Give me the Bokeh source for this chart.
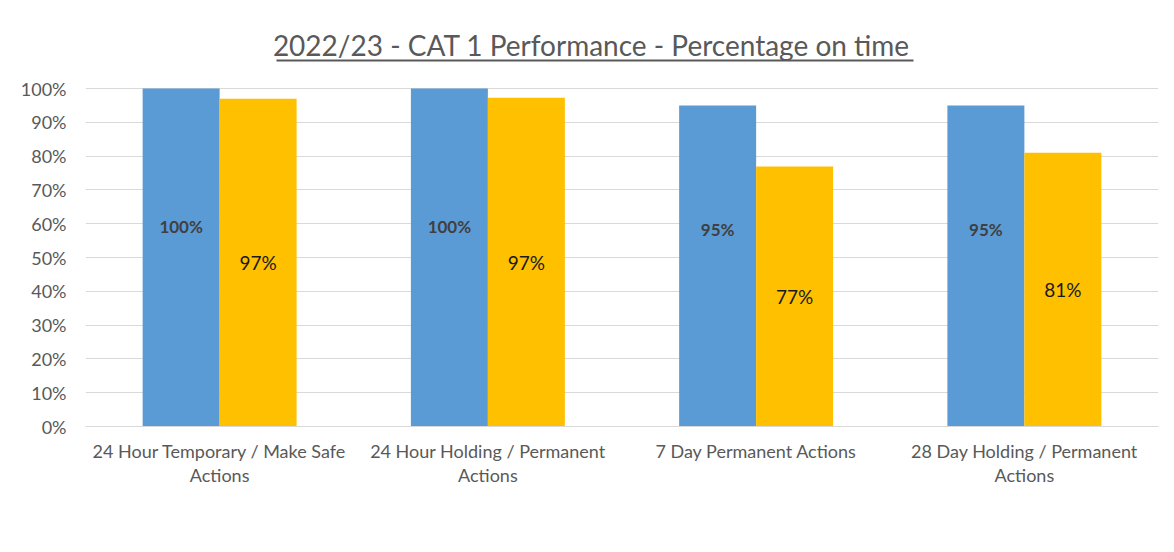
from bokeh.plotting import figure
from bokeh.models import (FactorRange, ColumnDataSource, Range1d, FixedTicker,
                          NumeralTickFormatter, Legend, LegendItem, Label, BoxAnnotation)
from bokeh.transform import dodge
from bokeh.core.properties import value
from bokeh.embed import file_html
from bokeh.resources import INLINE

categories = [
    "24 Hour Temporary / Make Safe\nActions",
    "24 Hour Holding / Permanent\nActions",
    "7 Day Permanent Actions",
    "28 Day Holding / Permanent\nActions",
]
series_names = ["Target", "2022/23"]
target = [1.00, 1.00, 0.95, 0.95]
actual = [0.97, 0.973, 0.769, 0.81]
y_ticks = [0.0, 0.1, 0.2, 0.3, 0.4, 0.5, 0.6, 0.7, 0.8, 0.9, 1.0]
title_text = "2022/23 - CAT 1 Performance  - Percentage on time"

FONT = "Lato"
BLUE = "#5B9BD5"
GOLD = "#FFC000"
GREY = "#595959"
GRID = "#D9D9D9"

# layout (pixels)
FRAME_W = 1073
PX_PER_UNIT = 338          # pixels for 0% -> 100%
HEAD_PX = 60               # extra frame space above 100% used for the title
PX_PER_CAT = FRAME_W / len(categories)


def py(px):   # pixels above 0% -> data units
    return px / PX_PER_UNIT


def px_x(px):  # pixels from frame left -> categorical synthetic units
    return px / PX_PER_CAT


src = ColumnDataSource(dict(
    cats=categories,
    target=target,
    actual=actual,
    target_lbl=[f"{round(v*100)}%" for v in target],
    actual_lbl=[f"{round(v*100)}%" for v in actual],
    target_lbl_y=[0.18 * v + 0.412 for v in target],
    actual_lbl_y=[v / 2 for v in actual],
))

p = figure(frame_width=FRAME_W, frame_height=PX_PER_UNIT + HEAD_PX,
           x_range=FactorRange(factors=categories, range_padding=0),
           y_range=Range1d(0, 1.0 + py(HEAD_PX)), output_backend="svg", toolbar_location=None,
           min_border_left=85, min_border_right=8, min_border_top=28, min_border_bottom=0)

bw = 0.287
r1 = p.vbar(x=dodge("cats", -bw / 2, range=p.x_range), top="target", width=bw, source=src,
            fill_color=BLUE, line_color=None)
r2 = p.vbar(x=dodge("cats", bw / 2, range=p.x_range), top="actual", width=bw, source=src,
            fill_color=GOLD, line_color=None)

p.text(x=dodge("cats", -bw / 2, range=p.x_range), y="target_lbl_y", text="target_lbl", source=src,
       text_align="center", text_baseline="middle", text_font=value(FONT),
       text_font_size="17px", text_font_style="bold", text_color="#404040")
p.text(x=dodge("cats", bw / 2, range=p.x_range), y="actual_lbl_y", text="actual_lbl", source=src,
       text_align="center", text_baseline="middle", text_font=value(FONT),
       text_font_size="19px", text_color="#1a1a1a")

# title (underlined), drawn in the space above the 100% line
p.add_layout(Label(x=px_x(509.5), y=1.0 + py(44), text=title_text,
                   text_align="center", text_baseline="middle",
                   text_font=FONT, text_font_size="28px", text_color=GREY))
p.add_layout(BoxAnnotation(left=px_x(191), right=px_x(828),
                           bottom=1.0 + py(27), top=1.0 + py(29),
                           fill_color=GREY, fill_alpha=1, line_color=None))

p.xgrid.grid_line_color = None
p.ygrid.grid_line_color = GRID
p.ygrid.ticker = FixedTicker(ticks=y_ticks)

p.yaxis.ticker = FixedTicker(ticks=y_ticks)
p.yaxis.formatter = NumeralTickFormatter(format="0%")
p.yaxis.axis_line_color = None
p.yaxis.major_tick_line_color = None
p.yaxis.minor_tick_line_color = None
p.yaxis.major_label_text_font = FONT
p.yaxis.major_label_text_font_size = "18px"
p.yaxis.major_label_text_color = GREY
p.yaxis.major_label_standoff = 13

p.xaxis.axis_line_color = GRID
p.xaxis.major_tick_line_color = None
p.xaxis.minor_tick_line_color = None
p.xaxis.major_label_text_font = FONT
p.xaxis.major_label_text_font_size = "18px"
p.xaxis.major_label_text_line_height = 1.1
p.xaxis.major_label_text_color = GREY
p.xaxis.major_label_standoff = 7

legend = Legend(items=[LegendItem(label=series_names[0], renderers=[r1]),
                       LegendItem(label=series_names[1], renderers=[r2])],
                orientation="horizontal", location="center",
                label_text_font=FONT, label_text_font_size="18px", label_text_color=GREY,
                glyph_width=10, glyph_height=10, spacing=20, label_standoff=3,
                padding=2, border_line_color=None, background_fill_alpha=0, margin=0)
p.add_layout(legend, "below")

p.outline_line_color = None
p.background_fill_color = "white"
p.border_fill_color = "white"

open("out.html", "w").write(file_html(p, INLINE))
